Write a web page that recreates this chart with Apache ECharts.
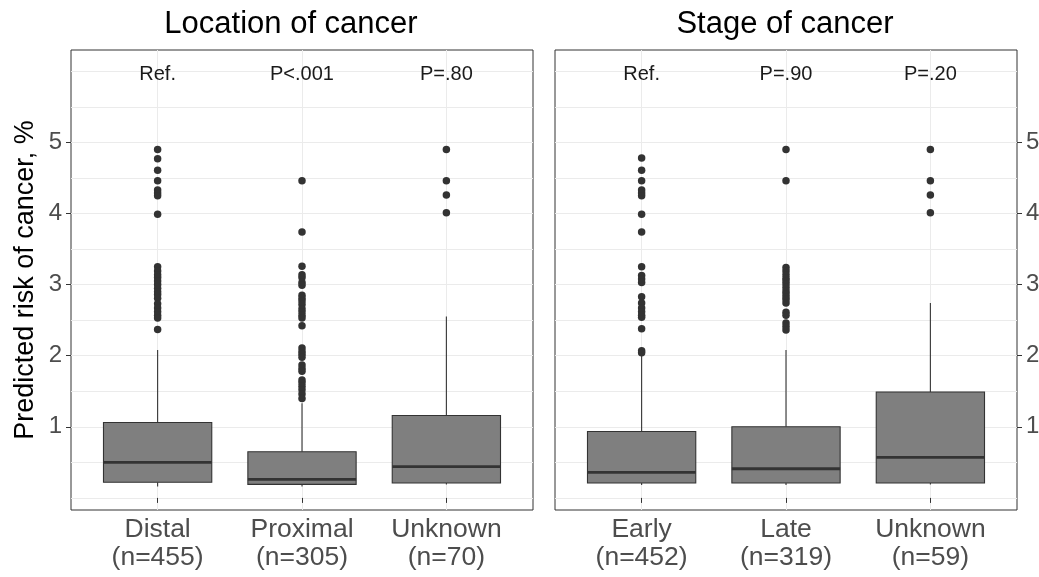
<!DOCTYPE html>
<html><head><meta charset="utf-8">
<script src="https://cdn.jsdelivr.net/npm/echarts@6/dist/echarts.min.js"></script>
<style>html,body{margin:0;padding:0;background:#fff}#c{width:1039px;height:577px}</style>
</head><body><div id="c"></div>
<script>
const locCategories = ['Distal\n(n=455)', 'Proximal\n(n=305)', 'Unknown\n(n=70)'];
const stageCategories = ['Early\n(n=452)', 'Late\n(n=319)', 'Unknown\n(n=59)'];
const locPLabels = ['Ref.', 'P<.001', 'P=.80'];
const stagePLabels = ['Ref.', 'P=.90', 'P=.20'];
// [low whisker, q1, median, q3, high whisker]
const locBoxes = [
  [0.16, 0.22, 0.50, 1.06, 2.08],
  [0.16, 0.19, 0.26, 0.65, 1.33],
  [0.19, 0.21, 0.44, 1.16, 2.55]
];
const stageBoxes = [
  [0.18, 0.21, 0.36, 0.935, 2.00],
  [0.18, 0.21, 0.41, 1.00, 2.08],
  [0.19, 0.21, 0.57, 1.49, 2.74]
];
const locOutliers = [
  [4.90, 4.77, 4.61, 4.46, 4.33, 4.29, 4.25, 3.99, 3.25, 3.19, 3.14, 3.10, 3.05, 3.00, 2.95, 2.90, 2.86, 2.81, 2.73, 2.67, 2.62, 2.57, 2.53, 2.37],
  [4.46, 3.74, 3.26, 3.14, 3.10, 3.03, 2.99, 2.85, 2.81, 2.77, 2.72, 2.66, 2.62, 2.57, 2.53, 2.42, 2.11, 2.06, 2.02, 1.98, 1.87, 1.82, 1.78, 1.66, 1.62, 1.57, 1.52, 1.46, 1.40],
  [4.90, 4.46, 4.26, 4.01]
];
const stageOutliers = [
  [4.78, 4.61, 4.46, 4.33, 4.29, 4.25, 3.99, 3.74, 3.25, 3.13, 3.08, 3.03, 2.83, 2.74, 2.67, 2.62, 2.57, 2.54, 2.38, 2.07, 2.04],
  [4.90, 4.46, 3.24, 3.19, 3.14, 3.09, 3.05, 3.01, 2.96, 2.91, 2.87, 2.83, 2.79, 2.74, 2.61, 2.57, 2.46, 2.41, 2.36],
  [4.90, 4.46, 4.26, 4.01]
];
const pLabelY = 5.95;
const yTickValues = [1, 2, 3, 4, 5];
const yGridValues = [0, 0.5, 1, 1.5, 2, 2.5, 3, 3.5, 4, 4.5, 5, 5.5, 6];
const xTickValues = [1, 2, 3];

const FONT = "'Liberation Sans', Arial, sans-serif";
const YMIN = -0.17, YMAX = 6.3;

function boxData(boxes) { return boxes.map((b, i) => [i + 1].concat(b)); }
function outlierData(outs) {
  const r = [];
  outs.forEach((arr, i) => arr.forEach(v => r.push([i + 1, v])));
  return r;
}
function renderBox(params, api) {
  const x = api.value(0);
  const lo = api.coord([x, api.value(1)]);
  const q1 = api.coord([x, api.value(2)]);
  const md = api.coord([x, api.value(3)]);
  const q3 = api.coord([x, api.value(4)]);
  const hi = api.coord([x, api.value(5)]);
  const hw = api.size([0.75, 0])[0] / 2;
  const ls = { stroke: '#333333', lineWidth: 1.1 };
  return { type: 'group', children: [
    { type: 'line', shape: { x1: lo[0], y1: lo[1], x2: q1[0], y2: q1[1] }, style: ls },
    { type: 'line', shape: { x1: q3[0], y1: q3[1], x2: hi[0], y2: hi[1] }, style: ls },
    { type: 'rect', shape: { x: q1[0] - hw, y: q3[1], width: 2 * hw, height: q1[1] - q3[1] }, style: { fill: '#7f7f7f', stroke: '#333333', lineWidth: 1.1 } },
    { type: 'line', shape: { x1: md[0] - hw, y1: md[1], x2: md[0] + hw, y2: md[1] }, style: { stroke: '#333333', lineWidth: 2.8 } }
  ]};
}
function makeTextRenderer(labels) {
  return function (params, api) {
    const p = api.coord([api.value(0), api.value(1)]);
    return { type: 'text', x: p[0], y: p[1], style: { text: labels[params.dataIndex], align: 'center', verticalAlign: 'middle', fontSize: 20, fontFamily: FONT, fill: '#1a1a1a' } };
  };
}
function xAxisCfg(g, cats) {
  return {
    type: 'value', gridIndex: g, min: 0.4, max: 3.6,
    axisLine: { show: false },
    axisTick: { show: true, customValues: xTickValues, length: 5, lineStyle: { color: '#333333' } },
    axisLabel: { customValues: xTickValues, formatter: v => cats[Math.round(v) - 1], fontSize: 26.5, lineHeight: 28, color: '#4d4d4d', margin: 6, fontFamily: FONT },
    splitLine: { show: true, lineStyle: { color: '#ebebeb', width: 1 } }
  };
}
function yLabelAxis(g, pos, name) {
  return {
    type: 'value', gridIndex: g, position: pos, min: YMIN, max: YMAX,
    name: name, nameLocation: 'middle', nameGap: 32, nameRotate: 90,
    nameTextStyle: { fontSize: 27, color: '#000', fontFamily: FONT },
    axisLine: { show: false },
    axisTick: { show: true, customValues: yTickValues, length: 5, lineStyle: { color: '#333333' } },
    axisLabel: { customValues: yTickValues, fontSize: 24, color: '#4d4d4d', margin: 9, fontFamily: FONT },
    splitLine: { show: false }
  };
}
function yGridAxis(g, pos) {
  return {
    type: 'value', gridIndex: g, position: pos, min: YMIN, max: YMAX,
    axisLine: { show: false },
    axisTick: { show: false, customValues: yGridValues },
    axisLabel: { show: false, customValues: yGridValues },
    splitLine: { show: true, lineStyle: { color: '#ebebeb', width: 1 } }
  };
}

const chart = echarts.init(document.getElementById('c'), null, { renderer: 'canvas' });
chart.setOption({
  animation: false,
  backgroundColor: '#ffffff',
  title: [
    { text: 'Location of cancer', left: 286, textAlign: 'center', top: 4, textStyle: { fontSize: 31, fontWeight: 'normal', color: '#000', fontFamily: FONT } },
    { text: 'Stage of cancer', left: 780, textAlign: 'center', top: 4, textStyle: { fontSize: 31, fontWeight: 'normal', color: '#000', fontFamily: FONT } }
  ],
  grid: [
    { left: 71, top: 50, width: 462, height: 460, show: true, borderColor: '#333333', borderWidth: 1, backgroundColor: 'transparent', containLabel: false, outerBoundsMode: 'none' },
    { left: 555, top: 50, width: 462, height: 460, show: true, borderColor: '#333333', borderWidth: 1, backgroundColor: 'transparent', containLabel: false, outerBoundsMode: 'none' }
  ],
  xAxis: [xAxisCfg(0, locCategories), xAxisCfg(1, stageCategories)],
  yAxis: [
    yGridAxis(0, 'left'), yLabelAxis(0, 'left', 'Predicted risk of cancer, %'),
    yGridAxis(1, 'right'), yLabelAxis(1, 'right', '')
  ],
  series: [
    { type: 'custom', xAxisIndex: 0, yAxisIndex: 1, renderItem: renderBox, data: boxData(locBoxes), z: 3 },
    { type: 'scatter', xAxisIndex: 0, yAxisIndex: 1, data: outlierData(locOutliers), symbolSize: 7.5, itemStyle: { color: '#333333', opacity: 1 }, z: 4 },
    { type: 'custom', xAxisIndex: 0, yAxisIndex: 1, renderItem: makeTextRenderer(locPLabels), data: locPLabels.map((t, i) => [i + 1, pLabelY]), z: 5 },
    { type: 'custom', xAxisIndex: 1, yAxisIndex: 3, renderItem: renderBox, data: boxData(stageBoxes), z: 3 },
    { type: 'scatter', xAxisIndex: 1, yAxisIndex: 3, data: outlierData(stageOutliers), symbolSize: 7.5, itemStyle: { color: '#333333', opacity: 1 }, z: 4 },
    { type: 'custom', xAxisIndex: 1, yAxisIndex: 3, renderItem: makeTextRenderer(stagePLabels), data: stagePLabels.map((t, i) => [i + 1, pLabelY]), z: 5 }
  ]
});
</script></body></html>
